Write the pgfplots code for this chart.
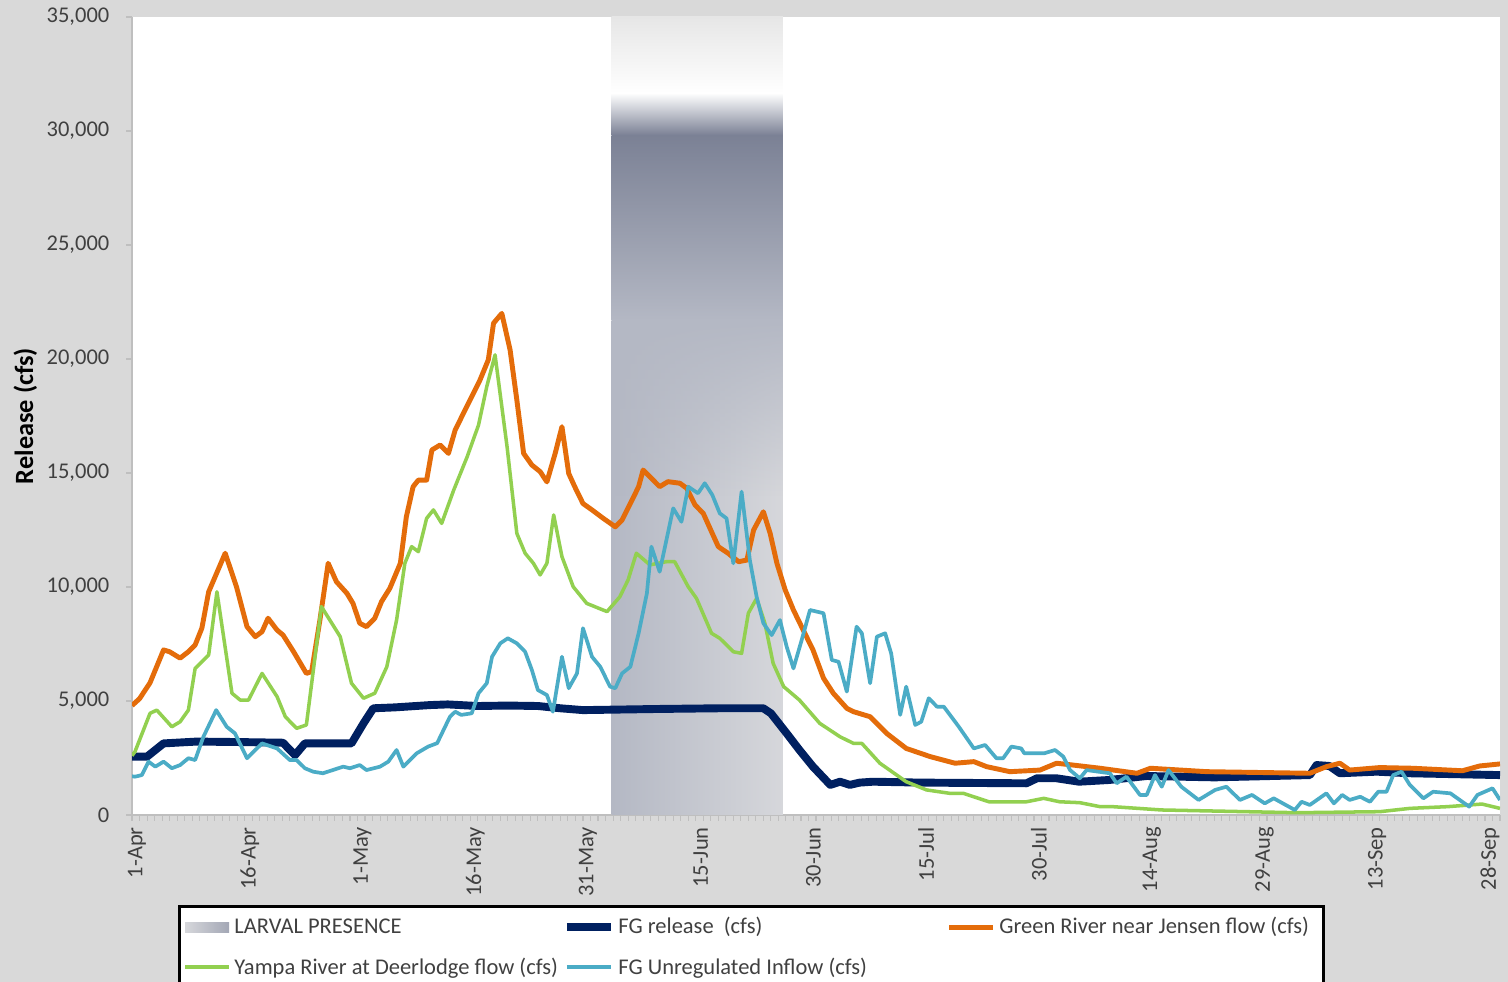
\documentclass[border=0pt]{standalone}
\usepackage{fontspec}
\setmainfont{Carlito}
\usepackage{pgfplots}
\pgfplotsset{compat=1.18}
\usetikzlibrary{fadings}

\definecolor{bg}{HTML}{D9D9D9}
\definecolor{fgnavy}{HTML}{002060}
\definecolor{jensen}{HTML}{E46C0A}
\definecolor{yampa}{HTML}{92D050}
\definecolor{unreg}{HTML}{4BACC6}
\definecolor{bandtop}{HTML}{E6E6E6}
\definecolor{banddark}{HTML}{7B8195}
\definecolor{bandmid}{HTML}{B4B8C4}
\definecolor{bandlow}{HTML}{D6D7DB}
\definecolor{txtgray}{HTML}{404040}
\definecolor{axgray}{HTML}{BFBFBF}

\newcommand\lbl{\fontsize{12.8}{15}\selectfont}

\begin{document}
\begin{tikzpicture}
\path[use as bounding box, fill=bg] (0mm,0mm) rectangle (301.6mm,196.4mm);
\begin{axis}[
    at={(26.4mm,33.4mm)}, anchor=south west,
    scale only axis, width=273.6mm, height=159.6mm,
    xmin=0, xmax=182, ymin=0, ymax=35000,
    axis background/.style={fill=white},
    axis x line*=bottom, axis y line*=left,
    axis line style={axgray, line width=0.8pt, -},
    tick align=outside,
    major tick length=1.2mm, minor tick length=1.2mm,
    tick style={axgray, line width=0.6pt},
    ytick={0,5000,...,35000},
    scaled y ticks=false,
    /pgf/number format/1000 sep={,},
    /pgf/number format/assume math mode=true,
    xtick={0,15,...,180},
    xticklabels={1-Apr,16-Apr,1-May,16-May,31-May,15-Jun,30-Jun,15-Jul,30-Jul,14-Aug,29-Aug,13-Sep,28-Sep},
    minor xtick={0,1,...,182},
    xticklabel style={xshift=1mm, rotate=90, anchor=east, font=\lbl, text=txtgray},
    yticklabel style={font=\lbl, text=txtgray, xshift=-2.1mm},
    ylabel={\textbf{Release (cfs)}},
    ylabel style={at={(axis description cs:-0.078,0.5)}, anchor=center, font=\fontsize{15}{17}\selectfont, text=black},
    legend columns=3,
    legend cell align=left,
    legend image code/.code={\draw[#1] (0mm,0mm) -- (8.8mm,0mm);},
    legend style={at={(axis description cs:0.0336,-0.1128)}, anchor=north west,
        draw=black, line width=1.7pt, fill=white, inner xsep=0.8mm, inner ysep=1.5mm,
        font=\lbl, text=txtgray, row sep=2.8mm, column sep=0mm},
    every axis plot/.append style={line join=round},
  ]

  % larval presence band
  \addplot[draw=none, top color=banddark, bottom color=bandmid,
    legend image code/.code={\shade[left color=bandlow, right color=banddark!70] (0mm,-1mm) rectangle (8.8mm,1mm);}]
    coordinates {(63.8,21700) (63.8,29820) (86.6,29820) (86.6,21700)} -- cycle;
  \addlegendentry{\makebox[65mm][l]{LARVAL PRESENCE}}
  \addplot[draw=none, left color=bandmid, right color=bandlow, forget plot]
    coordinates {(63.8,0) (63.8,21700) (86.6,21700) (86.6,0)} -- cycle;
  \addplot[draw=none, fill=bandmid, path fading=south, forget plot]
    coordinates {(63.8,14000) (63.8,21700) (86.6,21700) (86.6,14000)} -- cycle;
  \addplot[draw=none, top color=white, bottom color=banddark, forget plot]
    coordinates {(63.8,29820) (63.8,31670) (86.6,31670) (86.6,29820)} -- cycle;
  \addplot[draw=none, top color=bandtop, bottom color=white, forget plot]
    coordinates {(63.8,31670) (63.8,35000) (86.6,35000) (86.6,31670)} -- cycle;

  % FG release
  \addplot[fgnavy, line width=4.5pt] coordinates {
    (0,2560) (2,2560) (4.2,3140) (8.6,3220) (14,3200) (20.1,3170) (20.8,2920)
    (21.7,2630) (23,3140) (29.2,3140) (30.8,4020) (32.1,4680) (35,4720)
    (39.6,4820) (42,4850) (46,4780) (50,4800) (54,4780) (57,4680) (60,4600)
    (70,4650) (78,4680) (84,4680) (85,4460) (87.1,3580) (88.8,2850) (90.6,2120)
    (92.9,1320) (94.2,1460) (95.5,1320) (96.8,1420) (98.6,1460) (105,1420)
    (119,1390) (120.4,1610) (123,1610) (126,1460) (130,1535) (135,1710)
    (144,1650) (156.7,1750) (157.6,2190) (159.3,2150) (160.7,1830) (165.6,1900)
    (170,1830) (182,1750)
  };
  \addlegendentry{\makebox[65mm][l]{FG release\ \ (cfs)}}

  % Green River near Jensen
  \addplot[jensen, line width=2.8pt] coordinates {
    (0,4800) (1,5100) (2.4,5800) (4.2,7240) (5,7160) (6.4,6880) (7.5,7160)
    (8.4,7460) (9.3,8200) (10.2,9790) (12.4,11480) (13.9,10010) (15.3,8260)
    (16.4,7820) (17.3,8040) (18.1,8630) (19.3,8110) (20.1,7890) (21.5,7160)
    (23.2,6210) (23.9,6290) (25,8550) (26.1,11040) (27.2,10230) (28.6,9720)
    (29.4,9280) (30.3,8410) (31.2,8260) (32.3,8630) (33.2,9360) (34.3,9940)
    (35.7,11040) (36.5,13080) (37.4,14400) (38.1,14690) (39.2,14690)
    (39.9,16010) (41,16230) (42.1,15860) (43,16890) (44.1,17620) (45.2,18350)
    (46.3,19080) (47.4,19960) (48.1,21570) (49.2,22000) (50.3,20400)
    (51.2,18200) (52.1,15860) (53.2,15350) (54.3,15060) (55.2,14610)
    (56.3,15860) (57.2,17030) (58.1,14980) (58.9,14400) (60,13660) (61.2,13380)
    (62.7,13010) (64.3,12640) (65.2,12940) (66.3,13660) (67.4,14400) (68,15130)
    (70.2,14400) (71.3,14620) (72.9,14550) (73.8,14330) (74.9,13600) (76,13230)
    (76.9,12570) (78,11770) (79.3,11480) (80.7,11110) (81.8,11180) (82.7,12500)
    (84,13300) (84.9,12350) (85.8,11040) (86.9,9870) (88,8990) (89.3,8110)
    (90.6,7240) (92,6000) (93.3,5340) (95.1,4680) (96,4530) (98.2,4310)
    (100.4,3580) (103,2920) (106.2,2560) (109.5,2270) (112,2340) (113.7,2120)
    (116.8,1900) (120.8,1970) (123,2270) (125.2,2190) (128.8,2050) (133.7,1830)
    (135.5,2050) (143,1900) (156.7,1830) (158.9,2120) (160.7,2270) (162,1970)
    (166,2080) (170.4,2050) (177,1940) (179.3,2150) (182,2240)
  };
  \addlegendentry{\makebox[63.4mm][l]{Green River near Jensen flow (cfs)}}

  % Yampa River at Deerlodge
  \addplot[yampa, line width=2pt] coordinates {
    (0,2600) (0.4,2780) (2.4,4460) (3.3,4600) (5.3,3870) (6.4,4090) (7.5,4600)
    (8.4,6430) (10.2,7020) (11.3,9790) (13.3,5340) (14.4,5040) (15.5,5040)
    (17.3,6210) (19.3,5190) (20.4,4310) (21.9,3800) (23.2,3950) (25.2,9140)
    (27.7,7820) (29.2,5780) (30.8,5120) (32.3,5340) (33.9,6500) (35.2,8550)
    (36.3,11040) (37.2,11770) (38.1,11550) (39.2,13010) (40.1,13380)
    (41.2,12790) (42.8,14250) (44.6,15720) (46.1,17100) (47.2,18790)
    (48.3,20180) (49.9,16150) (51.2,12350) (52.3,11480) (53.4,11040)
    (54.3,10530) (55.2,11040) (56.1,13160) (57.2,11330) (58.7,10010)
    (60.5,9280) (63.2,8920) (64.9,9570) (66,10310) (67.1,11480) (68.9,10970)
    (71.1,11110) (72.2,11110) (74,10010) (75.1,9500) (77.1,7970) (78.2,7750)
    (80,7160) (81.1,7090) (82,8850) (83.1,9500) (84.2,8410) (85.3,6650)
    (86.7,5630) (88.8,5040) (91.5,4020) (94.2,3430) (96,3140) (97.1,3140)
    (99.5,2270) (103,1460) (105.7,1100) (108.8,950) (110.6,950) (114,580)
    (119,580) (121.3,730) (123.4,580) (126.1,540) (128.8,365) (130.5,365)
    (137,220) (155,100) (166,145) (170,290) (175,365) (179.6,480) (182,290)
  };
  \addlegendentry{\makebox[65mm][l]{Yampa River at Deerlodge flow (cfs)}}

  % FG unregulated inflow
  \addplot[unreg, line width=2.1pt] coordinates {
    (0,1700) (0.4,1680) (1.3,1750) (2.2,2340) (3.1,2120) (4.2,2340) (5.3,2050)
    (6.4,2190) (7.5,2490) (8.4,2410) (9.5,3430) (11.2,4600) (12.6,3870)
    (13.7,3580) (15.3,2490) (17.3,3140) (19.3,2920) (21,2410) (21.9,2410)
    (23,2050) (24.1,1900) (25.4,1830) (28.1,2120) (29,2050) (30.3,2190)
    (31.2,1970) (33,2120) (34.1,2340) (35.2,2850) (36.1,2120) (37.9,2710)
    (39.4,3000) (40.6,3150) (42.3,4310) (43,4530) (43.8,4390) (45.2,4460)
    (46.1,5340) (47.2,5780) (47.9,6940) (49,7530) (50,7750) (51.2,7530)
    (52.3,7160) (53.2,6360) (54,5480) (55.2,5260) (56,4530) (57.2,6940)
    (58.1,5560) (59.2,6210) (60,8190) (61.2,6940) (62.3,6500) (63.6,5630)
    (64.3,5560) (65.2,6210) (66.3,6500) (67.4,7970) (68.5,9720) (69.1,11770)
    (70.2,10670) (72,13450) (73.1,12860) (74,14400) (75.3,14110) (76.2,14550)
    (77.2,14040) (78.2,13230) (79.1,13010) (80,11040) (81.1,14180) (82.2,11180)
    (83.1,9570) (84,8410) (85.1,7890) (86.2,8550) (87.1,7380) (88,6430)
    (89.1,7680) (90.2,8990) (92,8850) (93.1,6800) (94,6720) (95.1,5410)
    (96.4,8260) (97.1,7970) (98.2,5780) (99.1,7820) (100.2,7970) (101,7090)
    (102.2,4390) (103,5630) (104.2,3950) (105,4090) (106,5120) (107.1,4750)
    (108,4750) (110,3870) (112,2920) (113.5,3070) (115,2490) (115.9,2490)
    (117,3000) (118.3,2920) (118.7,2710) (121.4,2710) (122.8,2850) (123.9,2560)
    (124.8,1970) (126.1,1610) (127,1970) (130.1,1830) (131,1390) (132.3,1680)
    (134.1,880) (135,880) (136.1,1750) (137,1240) (137.9,1970) (139.6,1240)
    (141.9,660) (144.1,1100) (145.6,1240) (147.4,660) (149,880) (150.7,510)
    (151.9,730) (154.7,220) (155.6,580) (156.7,440) (158.9,950) (159.9,510)
    (161,880) (162,660) (163.4,800) (164.7,580) (165.8,1020) (166.9,1020)
    (167.8,1750) (168.9,1900) (170,1320) (171.8,730) (173.1,1020) (175.4,950)
    (177.9,365) (179,880) (181,1170) (182,660)
  };
  \addlegendentry{FG Unregulated Inflow (cfs)}
\end{axis}
\end{tikzpicture}
\end{document}
